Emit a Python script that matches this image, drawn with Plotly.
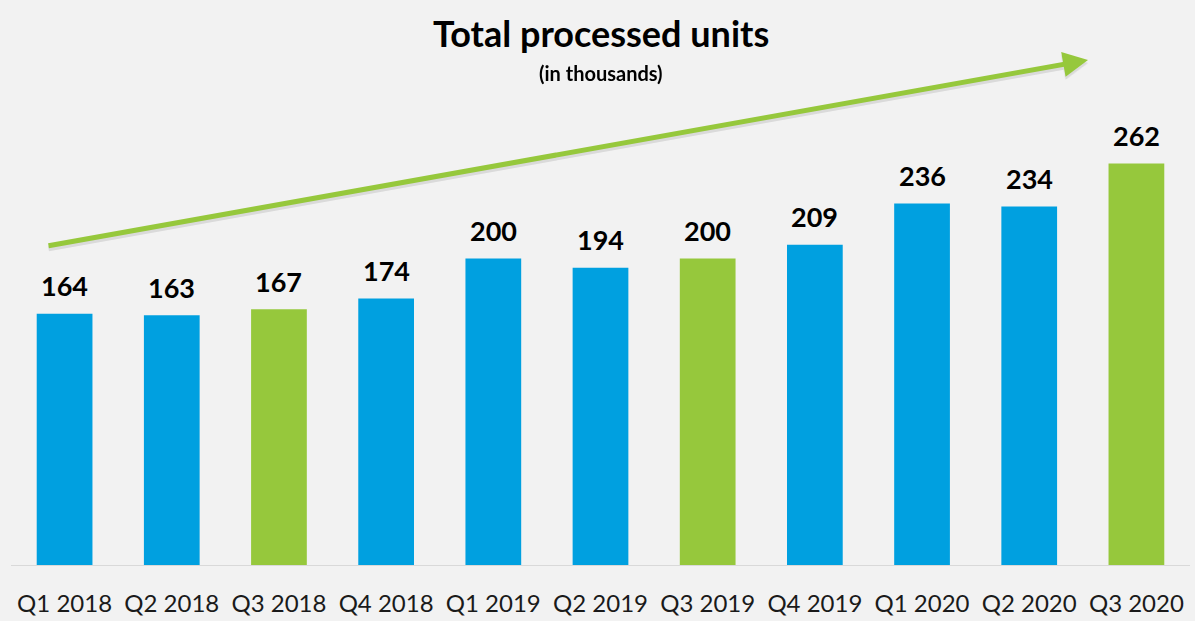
import plotly.graph_objs as go

# quarters and processed units (thousands)
quarters = ["Q1 2018", "Q2 2018", "Q3 2018", "Q4 2018", "Q1 2019", "Q2 2019",
            "Q3 2019", "Q4 2019", "Q1 2020", "Q2 2020", "Q3 2020"]
units = [164, 163, 167, 174, 200, 194, 200, 209, 236, 234, 262]

title_text = "Total processed units"
subtitle_text = "(in thousands)"

BLUE = "#00A0E0"
GREEN = "#96C83C"
BG = "#F2F2F2"
FONT = "Lato"

# Q3 quarters are highlighted in green
colors = [GREEN if q.startswith("Q3") else BLUE for q in quarters]

fig = go.Figure()
fig.add_trace(go.Bar(x=quarters, y=units, marker=dict(color=colors, line=dict(width=0)),
                     hoverinfo="x+y"))

# value labels above the bars
for q, v in zip(quarters, units):
    fig.add_annotation(x=q, y=v, xref="x", yref="y", text="<b>{}</b>".format(v),
                       showarrow=False, yanchor="middle", yshift=28,
                       font=dict(family=FONT, size=27, color="#000000"))

# trend arrow (with a soft shadow)
W, H = 1195, 621
L, R, T, B = 11, 5, 0, 56
pw, ph = W - L - R, H - T - B


def px(xp, yp):
    return (xp - L) / pw, (H - B - yp) / ph


hx, hy = px(1088, 60)
fig.add_annotation(x=hx, y=hy, xref="paper", yref="paper", text="", showarrow=True,
                   ax=47 - 1088, ay=246 - 60, axref="pixel", ayref="pixel",
                   arrowhead=2, arrowsize=1.0, arrowwidth=5, arrowcolor="rgba(0,0,0,0.10)",
                   yshift=-3, standoff=0)
fig.add_annotation(x=hx, y=hy, xref="paper", yref="paper", text="", showarrow=True,
                   ax=47 - 1088, ay=246 - 60, axref="pixel", ayref="pixel",
                   arrowhead=2, arrowsize=1.0, arrowwidth=5, arrowcolor=GREEN, standoff=0)

# title and subtitle
tx, ty = px(600, 33)
fig.add_annotation(x=0.5, y=ty, xref="paper", yref="paper", text="<b>{}</b>".format(title_text),
                   showarrow=False, xanchor="center", yanchor="middle",
                   font=dict(family=FONT, size=36, color="#000000"))
sx, sy = px(600, 73)
fig.add_annotation(x=0.5, y=sy, xref="paper", yref="paper", text="<b>{}</b>".format(subtitle_text),
                   showarrow=False, xanchor="center", yanchor="middle",
                   font=dict(family=FONT, size=20, color="#000000"))

fig.update_layout(
    width=W, height=H,
    margin=dict(l=L, r=R, t=T, b=B),
    paper_bgcolor=BG, plot_bgcolor=BG,
    bargap=0.48,
    showlegend=False,
    font=dict(family=FONT, color="#1A1A1A"),
    xaxis=dict(type="category", showline=True, linecolor="#D9D9D9", linewidth=1,
               showgrid=False, ticks="outside", ticklen=17, tickcolor="rgba(0,0,0,0)",
               tickfont=dict(family=FONT, size=24, color="#1A1A1A")),
    yaxis=dict(range=[0, ph / 1.532], showgrid=False, zeroline=False,
               showticklabels=False, visible=False),
)

# drop the default body margin so the figure fills the window
fig.write_html("out.html", config={"displayModeBar": False},
               post_script="document.body.style.margin='0';document.body.style.overflow='hidden';")
